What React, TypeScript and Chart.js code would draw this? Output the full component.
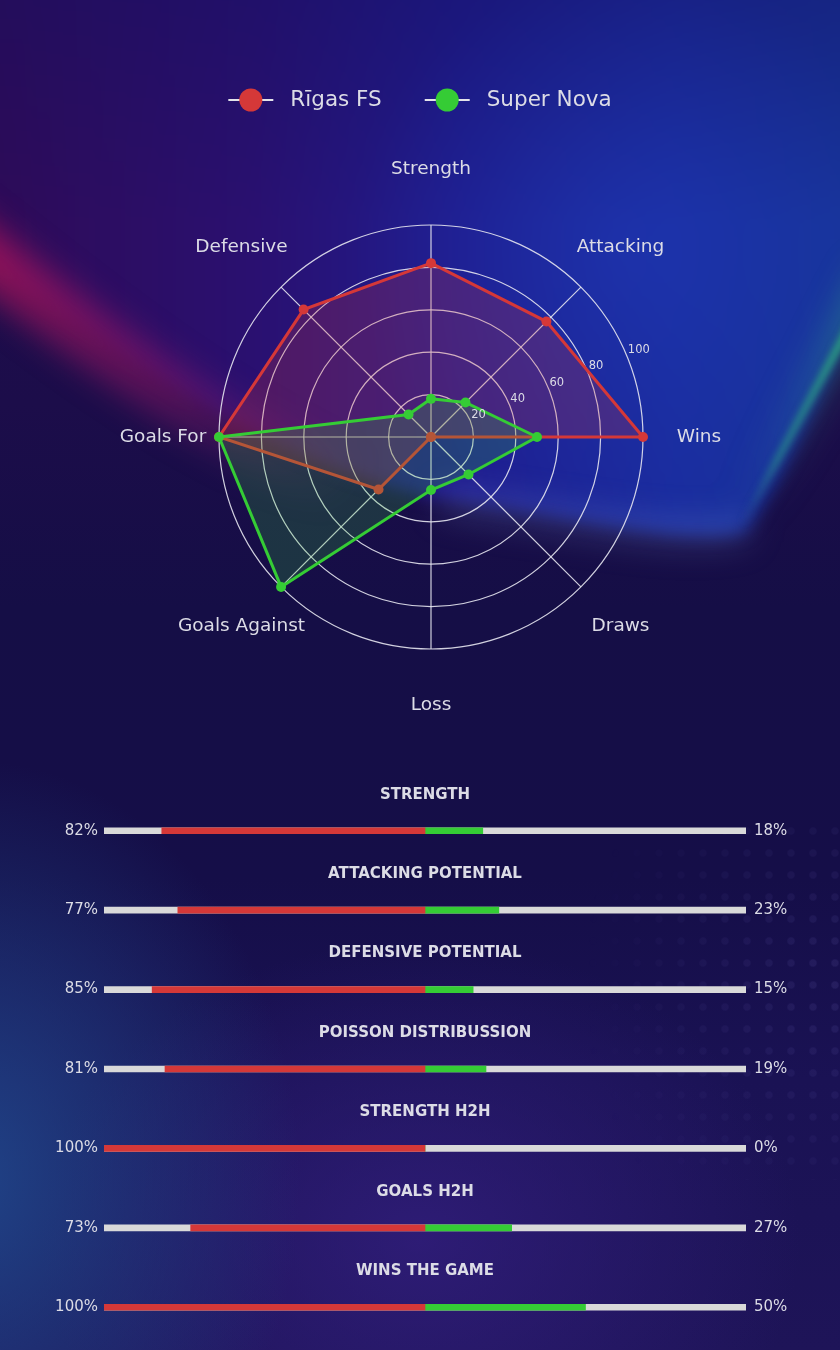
import { useEffect, useRef } from "react";
import { Chart, registerables } from "chart.js";

Chart.register(...registerables);

// radar data, listed clockwise from the top
const teams = ["Rīgas FS", "Super Nova"];
const radarLabels = ["Strength", "Attacking", "Wins", "Draws", "Loss", "Goals Against", "Goals For", "Defensive"];
const rigasValues = [82, 77, 100, 0, 0, 35, 100, 85];
const novaValues = [18, 23, 50, 25, 25, 100, 100, 15];
const radialTicks = [20, 40, 60, 80, 100];

// comparison bars
const metrics = [
  "STRENGTH",
  "ATTACKING POTENTIAL",
  "DEFENSIVE POTENTIAL",
  "POISSON DISTRIBUSSION",
  "STRENGTH H2H",
  "GOALS H2H",
  "WINS THE GAME",
];
const homePct = [82, 77, 85, 81, 100, 73, 100];
const awayPct = [18, 23, 15, 19, 0, 27, 50];

const RED = "#d53838";
const GREEN = "#35cc35";
const GRAY = "#d9d9d9";
const TEXT = "#dcdce6";
const FONT = "'DejaVu Sans', sans-serif";

const radarText = {
  id: "radarText",
  afterDraw(chart: any) {
    const ctx = chart.ctx;
    const scale = chart.scales.r;
    ctx.save();
    ctx.fillStyle = TEXT;

    // category labels around the outer ring
    ctx.font = `18.5px ${FONT}`;
    ctx.textAlign = "center";
    ctx.textBaseline = "middle";
    radarLabels.forEach((label, i) => {
      const p = scale.getPointPosition(i, scale.drawingArea + 56);
      ctx.fillText(label, p.x, p.y);
    });

    // radial tick labels, 22.5 deg above the "Wins" spoke
    const winsIdx = radarLabels.indexOf("Wins");
    ctx.font = `11.5px ${FONT}`;
    ctx.textAlign = "left";
    ctx.textBaseline = "bottom";
    radialTicks.forEach((v) => {
      const p = scale.getPointPosition(winsIdx, scale.getDistanceFromCenterForValue(v), -Math.PI / 8);
      ctx.fillText(String(v), p.x + 1, p.y);
    });

    // legend: line with a big marker, then the name
    ctx.font = `21.5px ${FONT}`;
    ctx.textBaseline = "middle";
    const sets = chart.data.datasets;
    const widths = sets.map((d: any) => ctx.measureText(d.label).width);
    const total = widths.reduce((s: number, w: number) => s + 62 + w, 0) + 43 * (sets.length - 1);
    let x = chart.width / 2 - total / 2;
    const y = 100;
    sets.forEach((d: any, i: number) => {
      ctx.strokeStyle = "#e4e4ea";
      ctx.lineWidth = 2;
      ctx.beginPath();
      ctx.moveTo(x, y);
      ctx.lineTo(x + 45, y);
      ctx.stroke();
      ctx.fillStyle = d.borderColor;
      ctx.beginPath();
      ctx.arc(x + 22.5, y, 11.5, 0, Math.PI * 2);
      ctx.fill();
      ctx.fillStyle = TEXT;
      ctx.fillText(d.label, x + 62, y);
      x += 62 + widths[i] + 43;
    });
    ctx.restore();
  },
};

const barText = {
  id: "barText",
  afterDraw(chart: any) {
    const { ctx } = chart;
    const { x, y } = chart.scales;
    ctx.save();
    ctx.fillStyle = TEXT;
    ctx.textBaseline = "middle";
    metrics.forEach((m, i) => {
      const cy = y.getPixelForValue(i);
      ctx.font = `bold 15px ${FONT}`;
      ctx.textAlign = "center";
      ctx.fillText(m, x.getPixelForValue(0), cy - 36);
      ctx.font = `15px ${FONT}`;
      ctx.textAlign = "right";
      ctx.fillText(`${homePct[i]}%`, x.left - 6, cy);
      ctx.textAlign = "left";
      ctx.fillText(`${awayPct[i]}%`, x.right + 8, cy);
    });
    ctx.restore();
  },
};

function RadarChart() {
  const ref = useRef<HTMLCanvasElement | null>(null);

  useEffect(() => {
    if (!ref.current) return;
    const chart = new Chart(ref.current, {
      type: "radar",
      data: {
        labels: radarLabels,
        datasets: [
          {
            label: teams[0],
            data: rigasValues,
            borderColor: RED,
            backgroundColor: "rgba(213,56,56,0.22)",
            borderWidth: 3,
            pointRadius: 5,
            pointBackgroundColor: RED,
            pointBorderWidth: 0,
            fill: true,
            order: 1,
          },
          {
            label: teams[1],
            data: novaValues,
            borderColor: GREEN,
            backgroundColor: "rgba(53,204,53,0.2)",
            borderWidth: 3,
            pointRadius: 5,
            pointBackgroundColor: GREEN,
            pointBorderWidth: 0,
            fill: true,
            order: 0,
          },
        ],
      },
      options: {
        animation: false,
        responsive: true,
        maintainAspectRatio: false,
        layout: { padding: { left: 219, right: 197, top: 225, bottom: 111 } },
        plugins: { legend: { display: false }, tooltip: { enabled: false } },
        scales: {
          r: {
            min: 0,
            max: 100,
            ticks: { stepSize: 20, display: false },
            grid: { circular: true, color: "rgba(230,230,240,0.9)", lineWidth: 1.2 },
            angleLines: { color: "rgba(230,230,240,0.9)", lineWidth: 1.2 },
            pointLabels: { display: false },
          },
        },
      },
      plugins: [radarText],
    });
    return () => chart.destroy();
  }, []);

  return (
    <div style={{ position: "absolute", left: 0, top: 0, width: 840, height: 760 }}>
      <canvas ref={ref} />
    </div>
  );
}

function CompareBars() {
  const ref = useRef<HTMLCanvasElement | null>(null);

  useEffect(() => {
    if (!ref.current) return;
    const chart = new Chart(ref.current, {
      type: "bar",
      data: {
        labels: metrics,
        datasets: [
          { label: teams[0], data: homePct.map((v) => [-v, 0]), backgroundColor: RED, grouped: false, barThickness: 6 },
          { label: teams[1], data: awayPct.map((v) => [0, v]), backgroundColor: GREEN, grouped: false, barThickness: 6 },
          { label: "track", data: metrics.map(() => [-100, 100]), backgroundColor: GRAY, grouped: false, barThickness: 6 },
        ],
      } as any,
      options: {
        indexAxis: "y",
        animation: false,
        responsive: true,
        maintainAspectRatio: false,
        layout: { padding: { left: 104, right: 94, top: 31, bottom: 3 } },
        plugins: { legend: { display: false }, tooltip: { enabled: false } },
        scales: {
          x: { min: -100, max: 100, display: false },
          y: { display: false },
        },
      },
      plugins: [barText],
    });
    return () => chart.destroy();
  }, []);

  return (
    <div style={{ position: "absolute", left: 0, top: 760, width: 840, height: 590 }}>
      <canvas ref={ref} />
    </div>
  );
}

const PAGE_BG = [
  "radial-gradient(ellipse 330px 420px at -30px 1180px, rgba(32,72,140,0.9), rgba(32,72,140,0))",
  "radial-gradient(ellipse 380px 300px at 420px 1240px, rgba(50,30,125,0.8), rgba(50,30,125,0))",
  "linear-gradient(180deg, #1f0c4e 0%, #1c0d4a 30%, #150e46 45%, #150e48 65%, #1a1254 80%, #1e1458 100%)",
].join(",");

const DOME = "M -60 228 C 90 322 230 452 430 497 C 560 515 690 548 745 532 C 790 470 825 380 880 270 L 880 -60 L -60 -60 Z";

const DOTS_BG = "radial-gradient(circle, rgba(130,120,210,0.13) 3px, rgba(130,120,210,0) 4.5px)";
const DOTS_MASK = "radial-gradient(ellipse 260px 300px at 100% 45%, #000 0%, rgba(0,0,0,0) 100%)";

// blurred svg layers overhang the page so their soft edges stay off-screen
const PAD = 80;
const layer = (blurPx: number) => ({
  position: "absolute" as const,
  left: -PAD,
  top: -PAD,
  filter: `blur(${blurPx}px)`,
});

function Backdrop() {
  const w = 840 + PAD * 2;
  const h = 700 + PAD;
  const shift = `translate(${PAD},${PAD})`;
  return (
    <>
      <svg width={w} height={h} style={layer(8)}>
        <defs>
          <linearGradient id="domeFill" x1={0} y1={0} x2={840} y2={0} gradientUnits="userSpaceOnUse">
            <stop offset="0" stopColor="#2e0b58" />
            <stop offset="0.3" stopColor="#2a1070" />
            <stop offset="0.55" stopColor="#1f1c8e" />
            <stop offset="0.8" stopColor="#1a2c9e" />
            <stop offset="1" stopColor="#17349a" />
          </linearGradient>
          <linearGradient id="domeTop" x1={0} y1={0} x2={0} y2={500} gradientUnits="userSpaceOnUse">
            <stop offset="0" stopColor="#140f60" stopOpacity="0.4" />
            <stop offset="0.45" stopColor="#140f60" stopOpacity="0" />
          </linearGradient>
          <radialGradient id="blueGlow" cx={630} cy={250} r={280} gradientUnits="userSpaceOnUse">
            <stop offset="0" stopColor="#1f3cbc" stopOpacity="0.45" />
            <stop offset="0.6" stopColor="#1f3cbc" stopOpacity="0.15" />
            <stop offset="1" stopColor="#1f3cbc" stopOpacity="0" />
          </radialGradient>
        </defs>
        <g transform={shift}>
          <path d={DOME} fill="url(#domeFill)" />
          <path d={DOME} fill="url(#domeTop)" />
          <path d={DOME} fill="url(#blueGlow)" />
        </g>
      </svg>
      <svg width={w} height={h} style={layer(16)}>
        <defs>
          <linearGradient id="redFade" x1={0} y1={240} x2={360} y2={480} gradientUnits="userSpaceOnUse">
            <stop offset="0" stopColor="#b0145a" stopOpacity="0.75" />
            <stop offset="0.5" stopColor="#a0186a" stopOpacity="0.45" />
            <stop offset="1" stopColor="#8a3090" stopOpacity="0" />
          </linearGradient>
          <linearGradient id="greenHaze" x1={850} y1={300} x2={740} y2={525} gradientUnits="userSpaceOnUse">
            <stop offset="0" stopColor="#30c080" stopOpacity="0.35" />
            <stop offset="1" stopColor="#3a7aa0" stopOpacity="0" />
          </linearGradient>
        </defs>
        <g transform={shift}>
          <path d="M -60 222 C 80 328 220 448 380 492" stroke="url(#redFade)" strokeWidth={55} fill="none" />
          <path d="M 440 500 C 570 518 680 545 748 528" stroke="rgba(110,140,210,0.28)" strokeWidth={26} fill="none" />
          <path d="M 880 270 L 742 525" stroke="url(#greenHaze)" strokeWidth={38} fill="none" />
        </g>
      </svg>
      <svg width={w} height={h} style={layer(3)}>
        <defs>
          <linearGradient id="greenFade" x1={850} y1={300} x2={740} y2={525} gradientUnits="userSpaceOnUse">
            <stop offset="0" stopColor="#30c080" stopOpacity="0.75" />
            <stop offset="0.7" stopColor="#2aa08a" stopOpacity="0.5" />
            <stop offset="1" stopColor="#3a7aa0" stopOpacity="0" />
          </linearGradient>
        </defs>
        <g transform={shift}>
          <path d="M 880 270 L 742 525" stroke="url(#greenFade)" strokeWidth={8} fill="none" />
        </g>
      </svg>
    </>
  );
}

export default function App() {
  return (
    <div style={{ position: "relative", width: 840, height: 1350, overflow: "hidden", background: PAGE_BG }}>
      <style>{"body{margin:0}"}</style>
      <Backdrop />
      <div
        style={{
          position: "absolute",
          left: 560,
          top: 820,
          width: 280,
          height: 360,
          background: DOTS_BG,
          backgroundSize: "22px 22px",
          maskImage: DOTS_MASK,
          WebkitMaskImage: DOTS_MASK,
        }}
      />
      <RadarChart />
      <CompareBars />
    </div>
  );
}
